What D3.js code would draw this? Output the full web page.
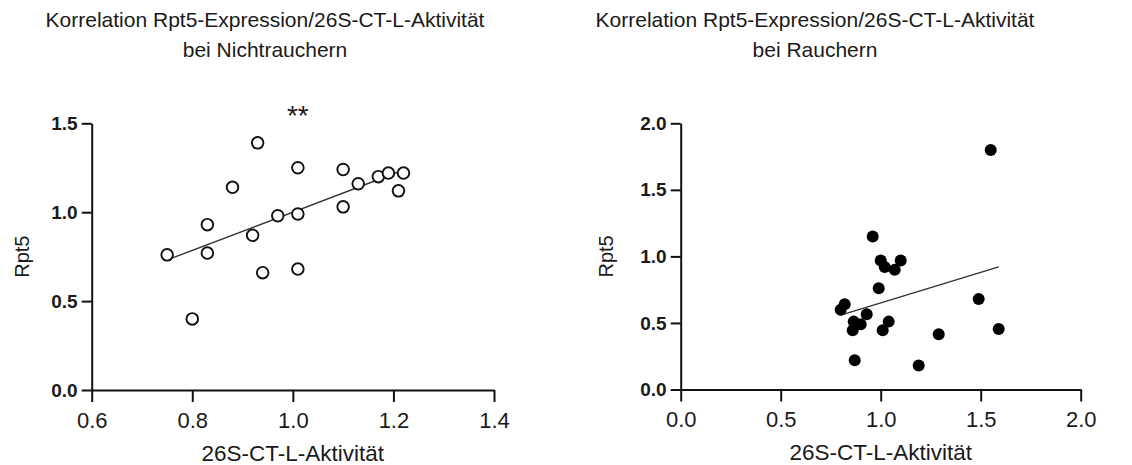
<!DOCTYPE html>
<html>
<head>
<meta charset="utf-8">
<script src="https://cdn.jsdelivr.net/npm/d3@7"></script>
<style>
  body { margin: 0; background: #fff; }
  svg { display: block; font-family: Arial, "Liberation Sans", sans-serif; }
</style>
</head>
<body>
<svg id="chart" width="1132" height="465"></svg>
<script>
// Korrelation Rpt5 vs 26S-CT-L-Aktivität, Nichtraucher / Raucher

// Nichtraucher (open circles)
const nonSmokerX = [0.75, 0.80, 0.83, 0.83, 0.88, 0.93, 0.92, 0.94, 0.97, 1.01, 1.01, 1.01, 1.10, 1.10, 1.13, 1.17, 1.19, 1.22, 1.21];
const nonSmokerY = [0.76, 0.40, 0.93, 0.77, 1.14, 1.39, 0.87, 0.66, 0.98, 1.25, 0.99, 0.68, 1.24, 1.03, 1.16, 1.20, 1.22, 1.22, 1.12];

// Raucher (filled circles)
const smokerX = [1.55, 0.96, 1.00, 1.02, 1.07, 1.10, 0.99, 0.82, 0.80, 0.93, 0.865, 0.90, 0.86, 1.04, 1.01, 0.87, 1.19, 1.29, 1.49, 1.59];
const smokerY = [1.80, 1.15, 0.97, 0.92, 0.90, 0.97, 0.76, 0.64, 0.60, 0.565, 0.51, 0.49, 0.445, 0.51, 0.445, 0.22, 0.18, 0.415, 0.68, 0.455];

// tick labels
const leftXTicks = [0.6, 0.8, 1.0, 1.2, 1.4];
const leftYTicks = [0.0, 0.5, 1.0, 1.5];
const rightXTicks = [0.0, 0.5, 1.0, 1.5, 2.0];
const rightYTicks = [0.0, 0.5, 1.0, 1.5, 2.0];

const titleLine1 = "Korrelation Rpt5-Expression/26S-CT-L-Aktivität";
const xTitle = "26S-CT-L-Aktivität";
const yTitle = "Rpt5";

const svg = d3.select("#chart");

// least squares fit
function linFit(xs, ys) {
  const mx = d3.mean(xs), my = d3.mean(ys);
  let sxy = 0, sxx = 0;
  xs.forEach((x, i) => { sxy += (x - mx) * (ys[i] - my); sxx += (x - mx) * (x - mx); });
  const b = sxy / sxx;
  return { b: b, a: my - b * mx };
}

function drawPanel(opt) {
  const g = svg.append("g").attr("transform", "translate(" + opt.left + "," + opt.top + ")");
  const w = opt.width, h = opt.height;

  const x = d3.scaleLinear().domain(opt.xDomain).range([0, w]);
  const y = d3.scaleLinear().domain(opt.yDomain).range([h, 0]);

  // x axis
  const xAxis = g.append("g")
    .attr("transform", "translate(0," + h + ")")
    .call(d3.axisBottom(x).tickValues(opt.xTicks).tickFormat(d3.format(".1f"))
      .tickSize(12).tickSizeOuter(0).tickPadding(10));
  xAxis.selectAll("text").style("font-size", "22px").attr("fill", "#1a1a1a");

  // y axis
  const yAxis = g.append("g")
    .call(d3.axisLeft(y).tickValues(opt.yTicks).tickFormat(d3.format(".1f"))
      .tickSize(10).tickSizeOuter(0).tickPadding(4));
  yAxis.selectAll("text").style("font-size", "19px").style("font-weight", "bold").attr("fill", "#1a1a1a");

  g.selectAll(".domain").attr("stroke", "#111").attr("stroke-width", 2);
  g.selectAll(".tick line").attr("stroke", "#111").attr("stroke-width", 2);

  // regression line over data range
  const fit = linFit(opt.xs, opt.ys);
  const ext = d3.extent(opt.xs);
  g.append("line")
    .attr("x1", x(ext[0])).attr("y1", y(fit.a + fit.b * ext[0]))
    .attr("x2", x(ext[1])).attr("y2", y(fit.a + fit.b * ext[1]))
    .attr("stroke", "#333").attr("stroke-width", 1.4);

  // points
  g.selectAll("circle.pt")
    .data(opt.xs.map((d, i) => ({ x: d, y: opt.ys[i] })))
    .enter().append("circle")
    .attr("class", "pt")
    .attr("cx", d => x(d.x))
    .attr("cy", d => y(d.y))
    .attr("r", opt.filled ? 6 : 5.8)
    .attr("fill", opt.filled ? "#000" : "#fff")
    .attr("stroke", "#111")
    .attr("stroke-width", opt.filled ? 0 : 1.9);

  // axis titles
  g.append("text")
    .attr("x", w / 2).attr("y", h + 71)
    .attr("text-anchor", "middle")
    .style("font-size", "22.5px").attr("fill", "#1a1a1a")
    .text(xTitle);

  g.append("text")
    .attr("transform", "rotate(-90)")
    .attr("x", -h / 2).attr("y", opt.yTitleX - opt.left)
    .attr("text-anchor", "middle")
    .style("font-size", "20px").attr("fill", "#1a1a1a")
    .text(yTitle);

  // chart title (2 lines)
  const t = svg.append("text")
    .attr("text-anchor", "middle")
    .style("font-size", "21px").attr("fill", "#1a1a1a");
  t.append("tspan").attr("x", opt.titleX).attr("y", 26.5).text(titleLine1);
  t.append("tspan").attr("x", opt.titleX).attr("y", 56.5).text(opt.title2);

  if (opt.sig) {
    g.append("text")
      .attr("x", x(1.01)).attr("y", 2)
      .attr("text-anchor", "middle")
      .style("font-size", "28px").attr("fill", "#1a1a1a")
      .text(opt.sig);
  }
}

drawPanel({
  left: 91.7, top: 123.3, width: 402.3, height: 266.7,
  xDomain: [0.6, 1.4], yDomain: [0, 1.5],
  xTicks: leftXTicks, yTicks: leftYTicks,
  xs: nonSmokerX, ys: nonSmokerY, filled: false,
  titleX: 265, title2: "bei Nichtrauchern",
  yTitleX: 29, sig: "**"
});

drawPanel({
  left: 680.7, top: 123.3, width: 400, height: 266.2,
  xDomain: [0, 2], yDomain: [0, 2],
  xTicks: rightXTicks, yTicks: rightYTicks,
  xs: smokerX, ys: smokerY, filled: true,
  titleX: 815, title2: "bei Rauchern",
  yTitleX: 613, sig: null
});
</script>
</body>
</html>
